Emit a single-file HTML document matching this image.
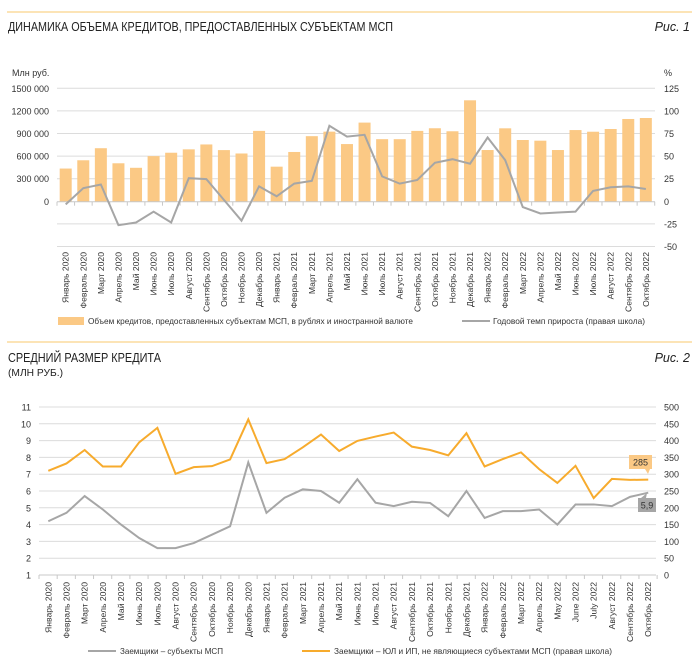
<!DOCTYPE html>
<html><head><meta charset="utf-8">
<style>
body{margin:0;background:#fff;}
svg{display:block;font-family:"Liberation Sans",sans-serif;}
</style></head><body>
<svg id="s" width="700" height="663" xmlns="http://www.w3.org/2000/svg">
<line x1="7" y1="12" x2="692" y2="12" stroke="#f9d38a" stroke-width="1.2"/>
<text x="8" y="31" font-size="12.5" fill="#222" textLength="385" lengthAdjust="spacingAndGlyphs" font-weight="500">ДИНАМИКА ОБЪЕМА КРЕДИТОВ, ПРЕДОСТАВЛЕННЫХ СУБЪЕКТАМ МСП</text>
<text x="690" y="31" font-size="12.5" fill="#222" text-anchor="end" font-style="italic">Рис. 1</text>
<line x1="7" y1="342" x2="692" y2="342" stroke="#f9d38a" stroke-width="1.2"/>
<text x="8" y="362" font-size="12.5" fill="#222" textLength="153" lengthAdjust="spacingAndGlyphs" font-weight="500">СРЕДНИЙ РАЗМЕР КРЕДИТА</text>
<text x="8" y="376" font-size="10" fill="#222" textLength="55" lengthAdjust="spacingAndGlyphs">(МЛН РУБ.)</text>
<text x="690" y="362" font-size="12.5" fill="#222" text-anchor="end" font-style="italic">Рис. 2</text>
<text x="12" y="76" font-size="9" fill="#333">Млн руб.</text>
<text x="664" y="76" font-size="9" fill="#333">%</text>
<g id="g"></g>
</svg>
<script>
var g=document.getElementById('g'),h='';
function T(x,y,t,a,sz,extra){h+='<text x="'+x+'" y="'+y+'" font-size="'+(sz||9)+'" fill="#333" text-anchor="'+(a||'start')+'" '+(extra||'')+'>'+t+'</text>';}
var mo=['Январь','Февраль','Март','Апрель','Май','Июнь','Июль','Август','Сентябрь','Октябрь','Ноябрь','Декабрь'];
var labs=[];for(var i=0;i<34;i++){labs.push(mo[i%12]+' '+(2020+Math.floor(i/12)));}
var L=57,R=655,y0=201.7,st=22.6;
var lv=['1500 000','1200 000','900 000','600 000','300 000','0'];
for(var k=0;k<=7;k++){var y=88.3+k*st*1.0;
 if(k!=5)h+='<line x1="'+L+'" y1="'+y+'" x2="'+R+'" y2="'+y+'" stroke="#dcdcdc" stroke-width="1"/>';
 if(k<6)T(49,y+3.5,lv[k],'end',9);
 T(664,y+3.5,125-25*k,'start',9);}
var bars=[440,550,710,510,450,605,650,695,760,685,640,940,465,660,870,930,765,1050,830,830,940,975,935,1346,686,974,819,810,686,951,929,965,1098,1111];
var pct=[-3,15,19,-26,-23,-11,-23,26,25,2,-21,17,6,20,23,84,72,74,28,20,24,43,47,42,71,46,-6,-13,-12,-11,12,16,17,14];
var step=17.58,x0=65.7,pts=[];
for(var i=0;i<34;i++){var cx=x0+i*step,bh=bars[i]/300*st;
 h+='<rect x="'+(cx-6)+'" y="'+(y0-bh)+'" width="12" height="'+bh+'" fill="#fbc985"/>';
 pts.push(cx+','+(y0-pct[i]/25*st));
 T(0,0,labs[i],'end',8.6,'transform="translate('+(cx+3)+',252) rotate(-90)"');}
h+='<line x1="'+L+'" y1="'+y0+'" x2="'+R+'" y2="'+y0+'" stroke="#c8c8c8" stroke-width="1"/>';
for(var i=0;i<=34;i++){var tx=L+i*step;h+='<line x1="'+tx+'" y1="'+y0+'" x2="'+tx+'" y2="'+(y0+4)+'" stroke="#c8c8c8"/>';}
h+='<polyline points="'+pts.join(' ')+'" fill="none" stroke="#a6a6a6" stroke-width="2"/>';
h+='<rect x="58" y="317" width="26" height="8" fill="#fbc985"/>';
T(88,324,'Объем кредитов, предоставленных субъектам МСП, в рублях и иностранной валюте','start',8.5,'textLength="325" lengthAdjust="spacingAndGlyphs"');
h+='<line x1="462" y1="321" x2="490" y2="321" stroke="#a6a6a6" stroke-width="2"/>';
T(493,324,'Годовой темп прироста (правая школа)','start',8.5,'textLength="152" lengthAdjust="spacingAndGlyphs"');
var BL=39,BR=656,b0=575,u=16.8;
for(var v=1;v<=11;v++){var y=b0-(v-1)*u;
 if(v>1)h+='<line x1="'+BL+'" y1="'+y+'" x2="'+BR+'" y2="'+y+'" stroke="#dcdcdc"/>';
 T(31,y+3.5,v,'end',9);T(664,y+3.5,(v-1)*50,'start',9);}
h+='<line x1="'+BL+'" y1="'+b0+'" x2="'+BR+'" y2="'+b0+'" stroke="#c8c8c8"/>';
var bs=18.18,bx=48.3;
var gr=[4.2,4.7,5.7,4.9,4.0,3.2,2.6,2.6,2.9,3.4,3.9,7.7,4.7,5.6,6.1,6.0,5.3,6.7,5.3,5.1,5.36,5.29,4.5,6.0,4.4,4.8,4.8,4.9,4.0,5.2,5.2,5.1,5.65,5.9];
var orr=[310,332,372,323,323,395,438,301,321,324,344,463,333,345,380,418,369,399,412,424,382,372,356,422,323,345,365,315,274,325,229,286,283,284];
var p1=[],p2=[];
for(var i=0;i<34;i++){var cx=bx+i*bs;p1.push(cx+','+(b0-(gr[i]-1)*u));p2.push(cx+','+(b0-orr[i]*0.336));
 T(0,0,labs[i].replace('Май 2022','May 2022').replace('Июнь 2022','June 2022').replace('Июль 2022','July 2022'),'end',8.6,'transform="translate('+(cx+3)+',582) rotate(-90)"');}
for(var i=0;i<=34;i++){var tx=BL+i*bs;h+='<line x1="'+tx+'" y1="'+b0+'" x2="'+tx+'" y2="'+(b0+4)+'" stroke="#c8c8c8"/>';}
h+='<polyline points="'+p1.join(' ')+'" fill="none" stroke="#a6a6a6" stroke-width="2"/>';
h+='<polyline points="'+p2.join(' ')+'" fill="none" stroke="#f7ab2d" stroke-width="2"/>';
h+='<rect x="629" y="455" width="23" height="14" fill="#fbc985"/><path d="M645 469 L648 474 L650 469Z" fill="#fbc985"/>';
T(640.5,465.5,'285','middle',9);
h+='<rect x="638" y="498" width="18" height="14" fill="#a6a6a6"/><path d="M641 498 L647 493 L646 498Z" fill="#a6a6a6"/>';
T(647,508.5,'5,9','middle',9);
h+='<line x1="88" y1="651" x2="116" y2="651" stroke="#a6a6a6" stroke-width="2"/>';
T(120,654,'Заемщики – субъекты МСП','start',8.5,'textLength="103" lengthAdjust="spacingAndGlyphs"');
h+='<line x1="302" y1="651" x2="330" y2="651" stroke="#f7ab2d" stroke-width="2"/>';
T(334,654,'Заемщики – ЮЛ и ИП, не являющиеся субъектами МСП (правая школа)','start',8.5,'textLength="278" lengthAdjust="spacingAndGlyphs"');
g.innerHTML=h;
</script>
</body></html>
